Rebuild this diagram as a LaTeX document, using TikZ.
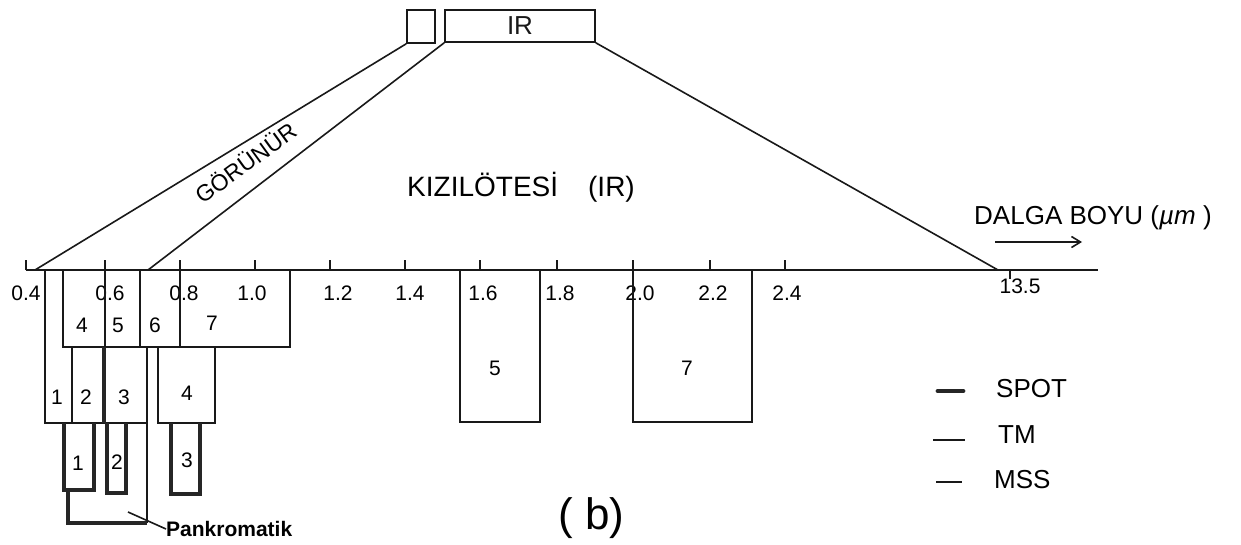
\documentclass[tikz,border=0pt]{standalone}
\usepackage{fontspec}
\setmainfont{Liberation Sans}
\usetikzlibrary{arrows.meta}
\begin{document}
\begin{tikzpicture}[x=1pt,y=-1pt,
  thinline/.style={line width=1.6pt, black!90},
  msslw/.style={line width=1.4pt, black!90},
  tmlw/.style={line width=2.6pt, black!90},
  spotlw/.style={line width=4.8pt, black!85},
  lbl/.style={font=\fontsize{21}{21}\selectfont, inner sep=0pt},
  biglbl/.style={font=\fontsize{26}{26}\selectfont, inner sep=0pt},
  topbox/.style={draw, thinline, inner sep=0pt},
]
\useasboundingbox[fill=white] (0,0) rectangle (1241,544);

% top boxes
\node[topbox, minimum width=28pt, minimum height=33pt] (vis) at (421,26.5) {};
\node[topbox, minimum width=150pt, minimum height=32pt, font=\fontsize{26}{26}\selectfont] (ir) at (520,26) {IR};

% axis
\coordinate (ax0) at (26,270);
\coordinate (ax1) at (1098,270);
\draw[thinline] (ax0) -- (ax1);
\foreach \x in {26,105,180,255,330,405,480,557,633,710,785}
  \draw[thinline] (\x,270) -- (\x,260);
\coordinate (t135) at (1010,270);
\draw[thinline] (t135) -- (1010,279);

% fan lines
\coordinate (f1) at (35,270);
\coordinate (f2) at (148,270);
\coordinate (f3) at (998,270);
\draw[thinline] (vis.south west) -- (f1);
\draw[thinline] (ir.south west) -- (f2);
\draw[thinline] (ir.south east) -- (f3);

% axis labels
\foreach \x/\t in {26/0.4,110/0.6,184/0.8,252/1.0,338/1.2,410/1.4,483/1.6,560/1.8,640/2.0,713/2.2,787/2.4}
  \node[lbl] at (\x,293) {\t};
\node[lbl] (l135) at (1020,286) {13.5};

% MSS
\draw[msslw] (63,270) rectangle (290,347);
\foreach \x in {105,140,180}
  \draw[msslw] (\x,270) -- (\x,347);
\node[lbl] (m4) at (82,325) {4};
\node[lbl] (m5) at (118,325) {5};
\node[lbl] (m6) at (155,325) {6};
\node[lbl] (m7) at (212,323) {7};

% TM
\draw[tmlw] (45,270) -- (45,423) -- (147,423);
\draw[tmlw] (72,347) -- (72,423);
\draw[tmlw] (158,347) rectangle (215,423);
\draw[tmlw] (460,270) rectangle (540,422);
\draw[tmlw] (633,270) rectangle (752,422);
\node[lbl] (t1) at (57,397) {1};
\node[lbl] (t2) at (86,397) {2};
\node[lbl] (t3) at (124,397) {3};
\node[lbl] (t4) at (187,393) {4};
\node[lbl] (t5) at (495,368) {5};
\node[lbl] (t7) at (687,368) {7};

% SPOT
\draw[spotlw] (104,347) -- (104,423);
\draw[spotlw] (64,423) -- (64,490) -- (94,490) -- (94,423);
\draw[spotlw] (107,423) -- (107,493) -- (126,493) -- (126,423);
\draw[spotlw] (171,423) -- (171,494) -- (200,494) -- (200,423);
\node[lbl] (s1) at (78,463) {1};
\node[lbl] (s2) at (117,462) {2};
\node[lbl] (s3) at (187,460) {3};

% panchromatic bracket
\draw[tmlw] (147,347) -- (147,523);
\draw[spotlw] (68,490) -- (68,523) -- (147,523);
\node[font=\fontsize{21}{21}\selectfont\bfseries, inner sep=0pt, anchor=west] (pan) at (166,529) {Pankromatik};
\coordinate (panS) at (128,512);
\draw[thinline] (panS) -- (pan.west);

% band names
\node[font=\fontsize{23}{23}\selectfont, inner sep=0pt, rotate=36] (gor) at (245,162) {GÖRÜNÜR};
\node[font=\fontsize{28}{28}\selectfont, inner sep=0pt, anchor=west] (kiz) at (407,187) {KIZILÖTESİ\hspace{30pt}(IR)};

% wavelength label
\node[biglbl, anchor=west] (dal) at (974,218) {DALGA BOYU (\textit{µm} )};
\coordinate (arS) at (995,242);
\coordinate (arE) at (1082,242);
\draw[thinline, -{Straight Barb[length=9pt,width=11pt]}] (arS) -- (arE);

% legend
\coordinate (lsA) at (938,391); \coordinate (lsB) at (963,391);
\coordinate (ltA) at (933,440); \coordinate (ltB) at (965,440);
\coordinate (lmA) at (936,482); \coordinate (lmB) at (962,482);
\draw[spotlw, line cap=round] (lsA) -- (lsB);
\draw[tmlw] (ltA) -- (ltB);
\draw[msslw] (lmA) -- (lmB);
\node[biglbl, anchor=west] (lgs) at (996,389) {SPOT};
\node[biglbl, anchor=west] (lgt) at (998,435) {TM};
\node[biglbl, anchor=west] (lgm) at (994,480) {MSS};

% caption
\node[font=\fontsize{44}{44}\selectfont, inner sep=0pt, anchor=west] (cap) at (558,518) {( b)};
\end{tikzpicture}
\end{document}
